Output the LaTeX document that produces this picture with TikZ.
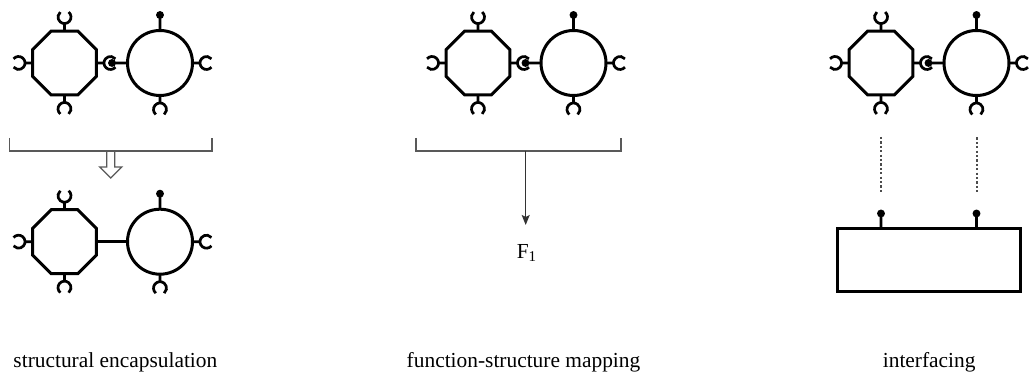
\documentclass[tikz,border=0pt]{standalone}
\usepackage{fontspec}
\setmainfont{Liberation Serif}
\usetikzlibrary{shapes.geometric,arrows.meta}

\begin{document}
\begin{tikzpicture}[x=0.5pt,y=-0.5pt,line width=1.5pt,
  octa/.style={regular polygon,regular polygon sides=8,draw,minimum size=34.6pt,inner sep=0pt,outer sep=0pt},
  comp/.style={circle,draw,minimum size=32.5pt,inner sep=0pt,outer sep=0pt},
  socket/.style={line width=1.35pt},
  bracket/.style={line width=0.7pt,draw=black!65},
  dots/.style={line width=1pt,draw=black!70,dash pattern=on 1.1pt off 1.1pt},
  label/.style={font=\fontsize{10.7}{13}\selectfont}]
  \useasboundingbox (0,0) rectangle (1030,378);
  % the same two components, joined by socket and plug, in each panel
  \foreach \s/\n in {0/a,413.5/b,816.5/c}{
    \node[octa] (oct\n) at (64.5+\s,63) {};
    \node[comp] (circ\n) at (160+\s,63) {};
    \foreach \p/\d in {oct\n.north/270,oct\n.west/180,oct\n.south/90,oct\n.east/0,circ\n.east/0,circ\n.south/90}
      \draw[socket] (\p) -- ++(\d:7.5) ++(\d:6.5) ++(\d+40:6.5) arc[start angle=\d+40,end angle=\d+320,radius=6.5];
    \foreach \p/\d in {circ\n.north/270,circ\n.west/180}
      \filldraw[socket] (\p) -- ++(\d:15.5) circle[radius=2.5];
  }
  % structural encapsulation: bracket, hollow arrow, fused components
  \draw[bracket] (9.5,138) -- (9.5,151) -- (212,151) -- (212,138);
  \coordinate (bra) at (110.75,151);
  \draw[bracket,line join=miter] (bra) ++(-4,0) -- ++(0,16) -- ++(-7,0) -- ++(11,11) -- ++(11,-11) -- ++(-7,0) -- ++(0,-16);
  \node[octa] (octd) at (64.5,241.7) {};
  \node[comp] (circd) at (160,241.7) {};
  \draw (octd) -- (circd);
  \foreach \p/\d in {octd.north/270,octd.west/180,octd.south/90,circd.east/0,circd.south/90}
    \draw[socket] (\p) -- ++(\d:7.5) ++(\d:6.5) ++(\d+40:6.5) arc[start angle=\d+40,end angle=\d+320,radius=6.5];
  \filldraw[socket] (circd.north) -- ++(270:15.5) circle[radius=2.5];
  % function-structure mapping
  \draw[bracket] (416,138) -- (416,151) -- (621,151) -- (621,138);
  \coordinate (brb) at (525.7,151);
  \coordinate (tipb) at (525.7,225);
  \draw[line width=0.65pt,draw=black!80,-{Stealth[length=5pt,width=4pt,inset=1pt]}] (brb) -- (tipb);
  \node[label] (f1) at (527,253) {F\textsubscript{1}};
  % interfacing
  \node[draw,minimum width=91.5pt,minimum height=31.5pt,inner sep=0pt,outer sep=0pt] (box) at (928.7,260.5) {};
  \foreach \c in {octc,circc}{
    \draw[dots] (\c.south) ++(0,42) -- ++(0,55);
    \filldraw[socket] (box.north -| \c) -- ++(270:15.5) circle[radius=2.5];
  }
  % captions
  \node[label] (cap1) at (115.4,362) {structural encapsulation};
  \node[label] (cap2) at (523.5,362) {function-structure mapping};
  \node[label] (cap3) at (929.2,362) {interfacing};
\end{tikzpicture}
\end{document}
